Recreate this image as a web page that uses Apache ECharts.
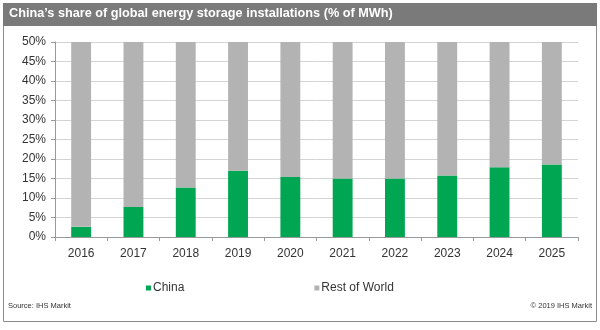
<!DOCTYPE html>
<html>
<head>
<meta charset="utf-8">
<script src="https://cdn.jsdelivr.net/npm/echarts@6/dist/echarts.min.js"></script>
<style>
  html, body { margin: 0; padding: 0; background: #fff; }
  #main { width: 600px; height: 330px; }
</style>
</head>
<body>
<div id="main"></div>
<script>
    var years = ['2016', '2017', '2018', '2019', '2020', '2021', '2022', '2023', '2024', '2025'];
    var china_share = [2.6, 7.7, 12.7, 17.0, 15.4, 15.0, 15.0, 15.8, 17.9, 18.6];
    // rest of world is what is left of 100%, the axis cuts it at 50%
    var rest_share = china_share.map(function (v) { return +(100 - v).toFixed(1); });

    var my_chart = echarts.init(document.getElementById('main'));
    var option = {
        animation: false,
        textStyle: { fontFamily: 'Liberation Sans, Arial, sans-serif' },
        graphic: [
            {
                type: 'rect',
                shape: { x: 3.5, y: 3.5, width: 593, height: 318 },
                style: { fill: 'none', stroke: '#8c8c8c', lineWidth: 1 },
                z: 0
            },
            {
                type: 'rect',
                shape: { x: 3, y: 3, width: 594, height: 23 },
                style: { fill: '#7a7a7a' },
                z: 1
            },
            {
                type: 'text',
                left: 9, top: 7,
                style: {
                    text: 'China\u2019s share of global energy storage installations (% of MWh)',
                    fill: '#ffffff', font: 'bold 12.7px Liberation Sans, Arial, sans-serif'
                },
                z: 2
            },
            {
                type: 'text',
                left: 8, top: 302,
                style: { text: 'Source: IHS Markit', fill: '#333', font: '7.5px Liberation Sans, Arial, sans-serif' }
            },
            {
                type: 'text',
                right: 8, top: 302,
                style: { text: '\u00a9 2019 IHS Markit', fill: '#333', font: '7.5px Liberation Sans, Arial, sans-serif' }
            }
        ],
        grid: { left: 55, right: 22, top: 42, bottom: 93, containLabel: false },
        legend: {
            data: ['China', 'Rest of World'],
            top: 277,
            left: 141,
            itemGap: 130,
            itemWidth: 5,
            itemHeight: 5,
            icon: 'rect',
            textStyle: { fontSize: 12, color: '#333', padding: [0, 0, 0, -3] }
        },
        xAxis: {
            type: 'category',
            data: years,
            axisLine: { lineStyle: { color: '#999' } },
            axisTick: { show: true, length: 4, lineStyle: { color: '#999' } },
            axisLabel: { color: '#333', fontSize: 12, margin: 11 }
        },
        yAxis: {
            type: 'value',
            min: 0,
            max: 50,
            interval: 5,
            axisLine: { show: true, lineStyle: { color: '#999' } },
            axisTick: { show: true, length: 4, lineStyle: { color: '#999' } },
            axisLabel: { formatter: '{value}%', color: '#333', fontSize: 12, margin: 9 },
            splitLine: { lineStyle: { color: '#d4d4d4' } }
        },
        series: [
            {
                name: 'China',
                type: 'bar',
                stack: 'share',
                barWidth: '38%',
                data: china_share,
                itemStyle: { color: '#00a651' }
            },
            {
                name: 'Rest of World',
                type: 'bar',
                stack: 'share',
                clip: true,
                data: rest_share,
                itemStyle: { color: '#b3b3b3' }
            }
        ]
    };

    my_chart.setOption(option);
</script>
</body>
</html>
